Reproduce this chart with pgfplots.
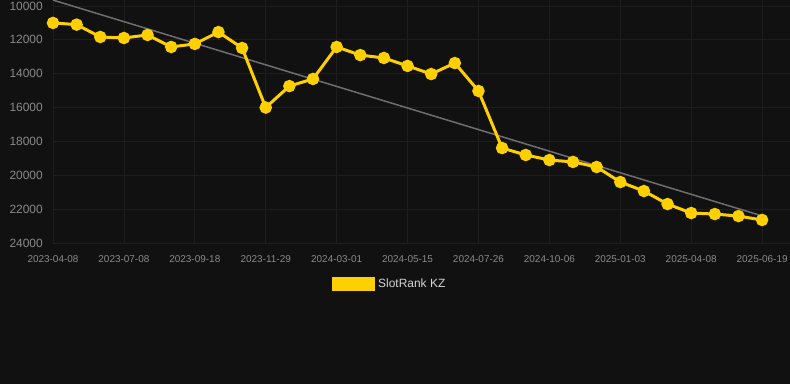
\documentclass[border=0pt]{standalone}
\usepackage{pgfplots}
\pgfplotsset{compat=1.18}
\usepackage{fontspec}
\setmainfont{Liberation Sans}
\definecolor{bg}{HTML}{111111}
\definecolor{gridc}{HTML}{1E1E1E}
\definecolor{tickc}{HTML}{8A8A8A}
\definecolor{ser}{HTML}{FFD000}
\definecolor{trend}{HTML}{6E6E6E}
\definecolor{legt}{HTML}{D4D4D4}
\begin{document}
\begin{tikzpicture}
\fill[bg] (0bp,0bp) rectangle (790bp,384bp);
\path[use as bounding box] (0bp,0bp) rectangle (790bp,384bp);
\begin{axis}[
  at={(53bp,384bp)}, anchor=north west,
  scale only axis, width=737bp, height=243bp,
  xmin=0, xmax=31.18, ymin=9646, ymax=24000, y dir=reverse,
  clip=false,
  axis line style={draw=none},
  xtick={0,3,...,30},
  xticklabels={2023-04-08,2023-07-08,2023-09-18,2023-11-29,2024-03-01,2024-05-15,2024-07-26,2024-10-06,2025-01-03,2025-04-08,2025-06-19},
  ytick={10000,12000,...,24000},
  grid=major, major grid style={gridc, line width=0.75bp},
  tick style={draw=none},
  /pgf/number format/.cd, 1000 sep={}, assume math mode=true, /pgfplots/.cd,
  scaled y ticks=false,
  yticklabel style={font=\fontsize{12}{12}\selectfont, text=tickc, anchor=east, inner sep=0pt, xshift=-10bp},
  xticklabel style={font=\fontsize{10}{10}\selectfont, text=tickc, anchor=north, inner sep=0pt, yshift=-12bp},
  legend style={at={(axis description cs:0.4566,-0.1687)}, anchor=center, draw=none, fill=none, text=legt, font=\fontsize{12}{12}\selectfont},
]
\addplot[trend, line width=1.5bp, forget plot] coordinates {(0,9650) (30,22400)};
\addplot[ser, line width=3bp, mark=*, mark size=4.7bp, mark options={fill=ser, draw=none},
  legend image code/.code={\fill[ser] (0bp,-5.5bp) rectangle (40bp,5.5bp); \node[draw=none, fill=none, inner sep=0pt, minimum size=0pt] at (43bp,0bp) {};}] coordinates {
(0,11000) (1,11100) (2,11830) (3,11890) (4,11710) (5,12420) (6,12240) (7,11540) (8,12480)
(9,16000) (10,14730) (11,14310) (12,12420) (13,12900) (14,13070) (15,13540) (16,14020)
(17,13370) (18,15020) (19,18390) (20,18800) (21,19100) (22,19210) (23,19510) (24,20400)
(25,20930) (26,21700) (27,22230) (28,22290) (29,22410) (30,22640)};
\addlegendentry{SlotRank KZ}
\end{axis}
\end{tikzpicture}
\end{document}
